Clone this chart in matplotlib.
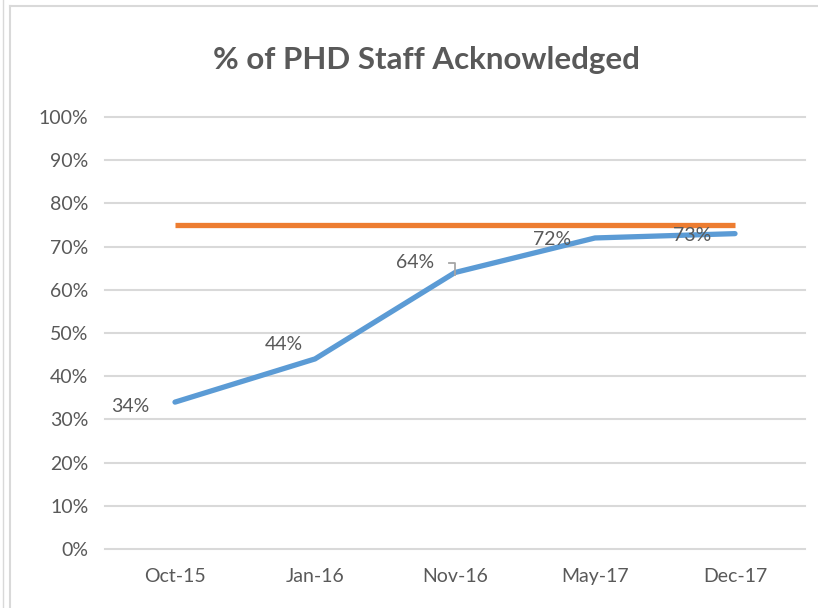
import numpy as np
from matplotlib import pyplot as plt
from matplotlib.lines import Line2D
import matplotlib.transforms as mtransforms

plt.rcParams['font.family'] = ['Lato', 'DejaVu Sans']

months = ["Oct-15", "Jan-16", "Nov-16", "May-17", "Dec-17"]
acknowledged = [0.34, 0.44, 0.64, 0.72, 0.73]
target = [0.75, 0.75, 0.75, 0.75, 0.75]
label_offsets = [(-45, -4), (-31, 14), (-40, 10), (-43, -2), (-43, -2)]

BLUE = "#5B9BD5"
ORANGE = "#ED7D31"
GRID = "#D9D9D9"
TEXT = "#595959"

fig = plt.figure(figsize=(8.18, 6.08), dpi=100)
ax = fig.add_axes([105/818, 1 - 549/608, 700/818, 432/608])

x = np.arange(len(months))
for v in np.arange(0, 1.01, 0.1):
    ax.axhline(v, color=GRID, lw=1.5, zorder=0, clip_on=False)

ax.plot(x, target, color=ORANGE, lw=3.8, solid_capstyle='butt', zorder=2)
ax.plot(x, acknowledged, color=BLUE, lw=3.8, solid_capstyle='round', zorder=3)

for i, v in enumerate(acknowledged):
    ax.annotate(f"{int(round(v*100))}%", (x[i], v), xytext=label_offsets[i],
                textcoords='offset pixels', ha='center', va='center',
                fontsize=14, color=TEXT, zorder=4)

# leader line for the Nov-16 label
fig.canvas.draw()
pt = ax.transData.transform((x[2], acknowledged[2]))
px = [pt[0] - 6, pt[0], pt[0]]
py = [pt[1] + 15, pt[1] + 15, pt[1] + 3]
ax.add_line(Line2D(px, py, transform=mtransforms.IdentityTransform(),
                   color="#A6A6A6", lw=1.3, zorder=4))

ax.set_xlim(-0.5, len(months) - 0.5)
ax.set_ylim(0, 1.0)
ax.set_xticks(x)
ax.set_xticklabels(months)
ax.set_yticks(np.arange(0, 1.01, 0.1))
ax.set_yticklabels([f"{int(round(v*100))}%" for v in np.arange(0, 1.01, 0.1)])
ax.tick_params(length=0, labelsize=14, labelcolor=TEXT)
ax.tick_params(axis='x', pad=14)
ax.tick_params(axis='y', pad=12)
for s in ax.spines.values():
    s.set_visible(False)

fig.text(426/818, 1 - 60/608, "% of PHD Staff Acknowledged", ha='center', va='center',
         fontsize=22.5, fontweight='bold', color=TEXT)

# chart border
fig.add_artist(Line2D([10/818, 10/818], [0, 1 - 6/608], color="#D9D9D9", lw=1.5))
fig.add_artist(Line2D([10/818, 1], [1 - 6/608, 1 - 6/608], color="#D9D9D9", lw=1.5))
fig.add_artist(Line2D([3/818, 3/818], [0, 1], color="#D9D9D9", lw=1.0))

fig.savefig("out.png", dpi=100)
